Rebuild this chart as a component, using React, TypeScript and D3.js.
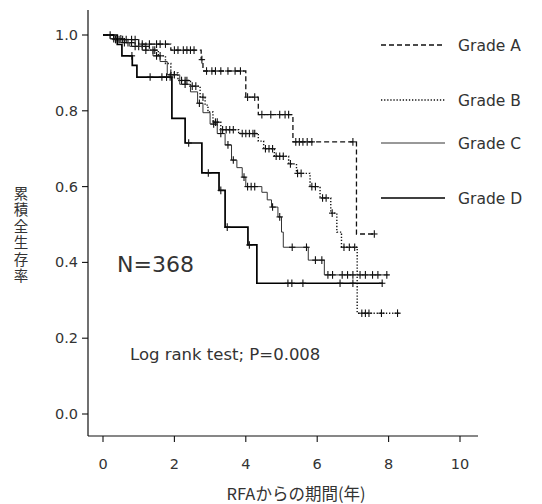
import React from "react";
import * as d3 from "d3";

// ---- data ----
const gradeNames = ["Grade A", "Grade B", "Grade C", "Grade D"];

// Kaplan–Meier step points: event times and survival after the step
const timesA = [0.3, 1.0, 1.9, 2.75, 2.8, 4.0, 4.35, 5.32, 7.1];
const survA = [0.988, 0.976, 0.96, 0.935, 0.905, 0.836, 0.79, 0.718, 0.475];
const endA = 7.6;
const censorA = [0.2, 0.35, 0.45, 0.55, 0.65, 0.8, 0.9, 1.1, 1.3, 1.5, 1.6, 1.75, 2.0, 2.1, 2.25, 2.35, 2.45, 2.55, 2.77, 2.9, 3.05, 3.15, 3.3, 3.5, 3.7, 3.85, 4.05, 4.25, 4.45, 4.7, 4.95, 5.1, 5.2, 5.4, 5.5, 5.6, 5.72, 5.85, 7.0, 7.6];

const timesB = [0.3, 0.6, 0.9, 1.3, 1.55, 1.75, 1.9, 2.1, 2.45, 2.72, 2.86, 2.94, 3.08, 3.3, 3.8, 4.35, 4.5, 4.8, 5.2, 5.42, 5.8, 6.08, 6.38, 6.55, 6.68, 7.12];
const survB = [0.99, 0.98, 0.97, 0.96, 0.945, 0.925, 0.9, 0.88, 0.865, 0.836, 0.815, 0.797, 0.77, 0.75, 0.74, 0.72, 0.7, 0.68, 0.66, 0.635, 0.6, 0.57, 0.53, 0.48, 0.44, 0.266];
const endB = 8.3;
const censorB = [0.4, 0.5, 0.7, 0.8, 1.0, 1.1, 1.2, 1.4, 1.45, 1.6, 2.2, 2.3, 2.35, 2.5, 2.6, 2.8, 3.15, 3.2, 3.35, 3.45, 3.55, 3.65, 3.9, 4.0, 4.1, 4.2, 4.25, 4.55, 4.65, 4.75, 4.85, 4.95, 5.05, 5.25, 5.45, 5.55, 5.85, 5.95, 6.15, 6.25, 6.42, 6.75, 6.9, 7.05, 7.25, 7.35, 7.45, 7.8, 8.25];

const timesC = [0.2, 0.45, 0.75, 1.1, 1.4, 1.6, 1.8, 2.15, 2.45, 2.65, 2.8, 3.0, 3.2, 3.42, 3.6, 3.75, 3.9, 4.0, 4.45, 4.6, 4.72, 4.9, 5.0, 5.05, 5.75, 6.2];
const survC = [0.99, 0.98, 0.97, 0.96, 0.945, 0.93, 0.895, 0.87, 0.85, 0.82, 0.795, 0.765, 0.74, 0.71, 0.67, 0.65, 0.625, 0.6, 0.585, 0.565, 0.546, 0.52, 0.48, 0.44, 0.406, 0.367];
const endC = 8.0;
const censorC = [0.3, 0.6, 0.9, 1.2, 1.5, 1.9, 2.0, 2.3, 2.7, 3.1, 3.3, 3.5, 3.65, 3.95, 4.05, 4.15, 4.25, 4.75, 4.95, 5.3, 5.7, 5.95, 6.13, 6.3, 6.43, 6.7, 6.85, 7.0, 7.2, 7.35, 7.55, 7.7, 7.95];

const timesD = [0.4, 0.53, 0.82, 0.95, 1.93, 2.3, 2.77, 3.25, 3.42, 4.06, 4.31];
const survD = [0.975, 0.945, 0.92, 0.889, 0.78, 0.715, 0.636, 0.59, 0.493, 0.446, 0.345];
const endD = 7.84;
const censorD = [0.81, 1.32, 1.65, 1.78, 1.88, 2.4, 2.95, 3.3, 3.48, 4.1, 5.18, 5.29, 5.6, 6.64, 7.0, 7.82];

const xTicks = [0, 2, 4, 6, 8, 10];
const yTicks = [0, 0.2, 0.4, 0.6, 0.8, 1.0];
const yTitle = "累積全生存率";
const xTitle = "RFAからの期間(年)";
const nLabel = "N=368";
const testLabel = "Log rank test; P=0.008";

const W = 542;
const H = 504;

const x = d3.scaleLinear().domain([0, 10]).range([103, 460]);
const y = d3.scaleLinear().domain([0, 1]).range([414, 35]);

type Series = { times: number[]; surv: number[]; end: number; censor: number[] };
const series: Series[] = [
  { times: timesA, surv: survA, end: endA, censor: censorA },
  { times: timesB, surv: survB, end: endB, censor: censorB },
  { times: timesC, surv: survC, end: endC, censor: censorC },
  { times: timesD, surv: survD, end: endD, censor: censorD },
];

const styles = [
  { dash: "5,3", width: 1.3, color: "#111" },
  { dash: "1.3,1.8", width: 1.4, color: "#111" },
  { dash: "", width: 1.0, color: "#333" },
  { dash: "", width: 1.7, color: "#000" },
];

function stepPoints(s: Series): [number, number][] {
  const pts: [number, number][] = [[0, 1]];
  s.times.forEach((t, i) => pts.push([t, s.surv[i]]));
  pts.push([s.end, s.surv[s.surv.length - 1]]);
  return pts;
}

function survAt(s: Series, t: number): number {
  let v = 1;
  s.times.forEach((tt, i) => {
    if (tt <= t) v = s.surv[i];
  });
  return v;
}

const line = d3
  .line<[number, number]>()
  .x((d) => x(d[0]))
  .y((d) => y(d[1]))
  .curve(d3.curveStepAfter);

const legendY = [45, 100, 143, 198];
const font = "'DejaVu Sans', 'Liberation Sans', Arial, sans-serif";
const cjk = "'Noto Sans CJK JP', 'Noto Sans CJK SC', sans-serif";

export default function App() {
  const axisY = 436;
  const axisX = 88;
  return (
    <svg
      width={W}
      height={H}
      style={{ position: "absolute", left: 0, top: 0, background: "#fff" }}
    >
      <rect width={W} height={H} fill="#fff" />
      {/* axes */}
      <line x1={axisX} y1={10} x2={axisX} y2={axisY} stroke="#111" strokeWidth={1.2} />
      <line x1={axisX} y1={axisY} x2={478} y2={axisY} stroke="#111" strokeWidth={1.2} />
      {yTicks.map((t) => (
        <g key={"y" + t}>
          <line x1={axisX - 6} x2={axisX} y1={y(t)} y2={y(t)} stroke="#111" strokeWidth={1.1} />
          <text
            x={axisX - 10}
            y={y(t) + 5}
            textAnchor="end"
            fontFamily={font}
            fontSize={14.5}
            fill="#333"
          >
            {t.toFixed(1)}
          </text>
        </g>
      ))}
      {xTicks.map((t) => (
        <g key={"x" + t}>
          <line x1={x(t)} x2={x(t)} y1={axisY} y2={axisY + 6} stroke="#111" strokeWidth={1.1} />
          <text
            x={x(t)}
            y={axisY + 33}
            textAnchor="middle"
            fontFamily={font}
            fontSize={14.5}
            fill="#333"
          >
            {t}
          </text>
        </g>
      ))}
      {/* axis titles */}
      <text
        x={21}
        y={186}
        fontFamily={cjk}
        fontSize={14.5}
        fill="#333"
        style={{ writingMode: "vertical-rl" as any, letterSpacing: "2px" }}
      >
        {yTitle}
      </text>
      <text x={296} y={500} textAnchor="middle" fontFamily={cjk} fontSize={16.5} fill="#333">
        {xTitle}
      </text>

      {/* curves */}
      {series.map((s, i) => (
        <g key={"s" + i}>
          <path
            d={line(stepPoints(s)) || ""}
            fill="none"
            stroke={styles[i].color}
            strokeWidth={styles[i].width}
            strokeDasharray={styles[i].dash}
          />
          {s.censor.map((t, j) => {
            const cx = x(t);
            const cy = y(survAt(s, t));
            return (
              <g key={j} stroke="#111" strokeWidth={1.1}>
                <line x1={cx - 3.2} x2={cx + 3.2} y1={cy} y2={cy} />
                <line x1={cx} x2={cx} y1={cy - 3.8} y2={cy + 3.8} />
              </g>
            );
          })}
        </g>
      ))}

      {/* legend */}
      {gradeNames.map((g, i) => (
        <g key={g}>
          <line
            x1={381}
            x2={445}
            y1={legendY[i]}
            y2={legendY[i]}
            stroke={styles[i].color}
            strokeWidth={styles[i].width}
            strokeDasharray={styles[i].dash}
          />
          <text x={458} y={legendY[i] + 5.5} fontFamily={font} fontSize={15.5} fill="#333">
            {g}
          </text>
        </g>
      ))}

      {/* annotations */}
      <text x={117} y={272} fontFamily={font} fontSize={22} fill="#333">
        {nLabel}
      </text>
      <text x={130} y={360} fontFamily={font} fontSize={16.5} fill="#333">
        {testLabel}
      </text>
    </svg>
  );
}
